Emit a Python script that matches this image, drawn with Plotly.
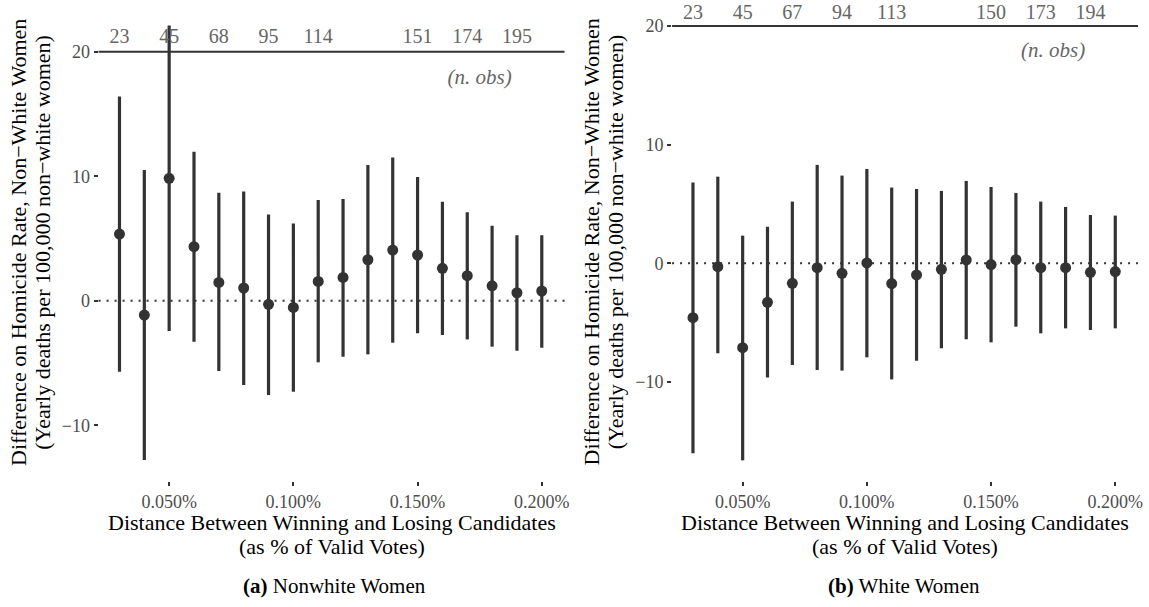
import plotly.graph_objects as go

W, H = 1149, 607

# ---------------- data ----------------
margin = [0.03, 0.04, 0.05, 0.06, 0.07, 0.08, 0.09, 0.10, 0.11, 0.12,
          0.13, 0.14, 0.15, 0.16, 0.17, 0.18, 0.19, 0.20, 0.21]

nw_est = [5.35, -1.15, 9.83, 4.34, 1.47, 1.02, -0.29, -0.54, 1.55, 1.87,
          3.29, 4.07, 3.67, 2.60, 2.01, 1.20, 0.64, 0.78, 0.46]
nw_hi = [16.4, 10.5, 22.1, 11.97, 8.67, 8.78, 6.93, 6.21, 8.09, 8.17,
         10.90, 11.51, 9.93, 7.95, 7.10, 6.02, 5.25, 5.25, 4.9]
nw_lo = [-5.7, -12.8, -2.44, -3.29, -5.65, -6.77, -7.58, -7.31, -4.95, -4.50,
         -4.31, -3.37, -2.62, -2.76, -3.11, -3.69, -4.02, -3.78, -3.9]

w_est = [-4.58, -0.28, -7.11, -3.29, -1.69, -0.37, -0.84, 0.03, -1.71, -0.98,
         -0.51, 0.28, -0.11, 0.31, -0.37, -0.37, -0.76, -0.70, -0.42]
w_hi = [6.80, 7.30, 2.33, 3.09, 5.20, 8.29, 7.39, 7.95, 6.38, 6.26,
        6.10, 6.94, 6.43, 5.93, 5.20, 4.75, 4.07, 4.02, 3.8]
w_lo = [-16.0, -7.58, -16.6, -9.63, -8.57, -8.99, -9.04, -7.92, -9.78, -8.20,
        -7.16, -6.40, -6.66, -5.34, -5.90, -5.48, -5.62, -5.48, -5.2]

nobs_x = [0.03, 0.05, 0.07, 0.09, 0.11, 0.15, 0.17, 0.19]
nw_nobs = ["23", "45", "68", "95", "114", "151", "174", "195"]
w_nobs = ["23", "45", "67", "94", "113", "150", "173", "194"]

x_tickvals = [0.05, 0.10, 0.15, 0.20]
x_ticktext = ["0.050%", "0.100%", "0.150%", "0.200%"]
y_tickvals = [-10, 0, 10, 20]
y_ticktext = ["\u221210", "0", "10", "20"]

y_title = ["Difference on Homicide Rate, Non\u2212White Women",
           "(Yearly deaths per 100,000 non\u2212white women)"]
x_title = ["Distance Between Winning and Losing Candidates",
           "(as % of Valid Votes)"]
captions = ["<b>(a)</b> Nonwhite Women", "<b>(b)</b> White Women"]

# ---------------- style ----------------
SERIF = "'Liberation Serif', 'Times New Roman', Times, serif"
DARK = "#333333"
GREY = "#666666"
TICKGREY = "#4d4d4d"


def xp(px):
    return px / W


def yp(py):
    return 1 - py / H


fig = go.Figure()

panels = [
    dict(est=nw_est, hi=nw_hi, lo=nw_lo, nobs=nw_nobs, xa="x", ya="y", lab_y=21.1),
    dict(est=w_est, hi=w_hi, lo=w_lo, nobs=w_nobs, xa="x2", ya="y2", lab_y=21.0),
]

for p in panels:
    plus = [h - e for h, e in zip(p["hi"], p["est"])]
    minus = [e - l for e, l in zip(p["est"], p["lo"])]
    fig.add_trace(go.Scatter(
        x=margin, y=p["est"], mode="markers", xaxis=p["xa"], yaxis=p["ya"],
        marker=dict(size=11, color=DARK),
        error_y=dict(type="data", symmetric=False, array=plus, arrayminus=minus,
                     color=DARK, thickness=3.2, width=0),
        showlegend=False, hoverinfo="skip"))
    fig.add_trace(go.Scatter(
        x=nobs_x, y=[p["lab_y"]] * len(nobs_x), text=p["nobs"], mode="text",
        xaxis=p["xa"], yaxis=p["ya"], textposition="middle center",
        textfont=dict(family=SERIF, size=20, color=GREY),
        showlegend=False, hoverinfo="skip", cliponaxis=False))
    fig.add_trace(go.Scatter(
        x=[0.175], y=[17.8], text=["<i>(n. obs)</i>"], mode="text",
        xaxis=p["xa"], yaxis=p["ya"], textposition="middle center",
        textfont=dict(family=SERIF, size=21, color=GREY),
        showlegend=False, hoverinfo="skip"))
    fig.add_shape(type="line", xref=p["xa"] + " domain", yref=p["ya"], x0=0, x1=1, y0=0, y1=0,
                  line=dict(color=DARK, width=2, dash="2px,6px"), layer="below")
    fig.add_shape(type="line", xref=p["xa"] + " domain", yref=p["ya"], x0=0, x1=1, y0=20, y1=20,
                  line=dict(color=DARK, width=2), layer="below")

axis_common = dict(showgrid=False, zeroline=False, showline=False, ticks="outside",
                   ticklen=4, tickwidth=1.6, tickcolor=DARK,
                   tickfont=dict(family=SERIF, size=18, color=TICKGREY))

xr = [0.021583, 0.209158]
fig.update_layout(
    width=W, height=H, margin=dict(l=0, r=0, t=0, b=0),
    paper_bgcolor="white", plot_bgcolor="white",
    font=dict(family=SERIF),
    xaxis=dict(domain=[xp(99), xp(567)], range=xr, anchor="y",
               tickvals=x_tickvals, ticktext=x_ticktext, **axis_common),
    yaxis=dict(domain=[yp(481), yp(3)], range=[-14.48, 23.91], anchor="x",
               tickvals=y_tickvals, ticktext=y_ticktext, **axis_common),
    xaxis2=dict(domain=[xp(675), xp(1143)], range=xr, anchor="y2",
                tickvals=x_tickvals, ticktext=x_ticktext, **axis_common),
    yaxis2=dict(domain=[yp(481), yp(3)], range=[-18.34, 21.93], anchor="x2",
                tickvals=y_tickvals, ticktext=y_ticktext, **axis_common),
)

ann = []
for cx, ytx in [(333, 18), (909, 594)]:
    for i, line in enumerate(x_title):
        ann.append(dict(text=line, x=xp(cx), y=yp(522 + 24 * i), xref="paper", yref="paper",
                        showarrow=False, xanchor="center", yanchor="middle",
                        font=dict(family=SERIF, size=22, color="black")))
    for i, line in enumerate(y_title):
        ann.append(dict(text=line, x=xp(ytx + 24 * i), y=yp(242), xref="paper", yref="paper",
                        showarrow=False, xanchor="center", yanchor="middle", textangle=-90,
                        font=dict(family=SERIF, size=22, color="black")))
for cx, cap in [(336, captions[0]), (908, captions[1])]:
    ann.append(dict(text=cap, x=xp(cx), y=yp(586), xref="paper", yref="paper",
                    showarrow=False, xanchor="center", yanchor="middle",
                    font=dict(family=SERIF, size=21, color="black")))
fig.update_layout(annotations=ann)

fig.write_html("out.html")
